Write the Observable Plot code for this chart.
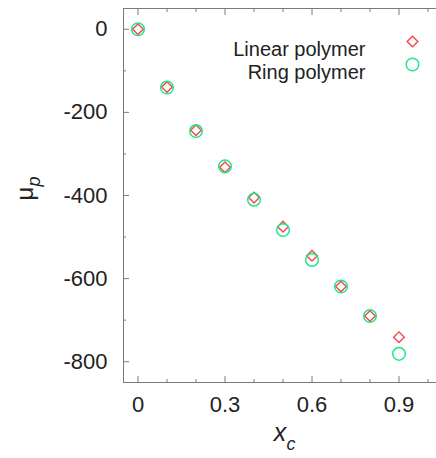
<!DOCTYPE html>
<html><head><meta charset="utf-8">
<script src="https://cdn.jsdelivr.net/npm/d3@7"></script>
<script src="https://cdn.jsdelivr.net/npm/@observablehq/plot@0.6"></script>
<style>body{margin:0;background:#fff}</style>
</head><body><div id="chart"></div>
<script>
// Data
const xc = [0, 0.1, 0.2, 0.3, 0.4, 0.5, 0.6, 0.7, 0.8, 0.9];
const linearMu = [0, -139, -243, -332, -405, -475, -545, -619, -690, -741];
const ringMu = [0, -140, -245, -330, -410, -483, -555, -619, -690, -781];
const seriesNames = ["Linear polymer", "Ring polymer"];
const xTickLabels = [0, 0.3, 0.6, 0.9];
const xMinorTicks = [0, 0.1, 0.2, 0.3, 0.4, 0.5, 0.6, 0.7, 0.8, 0.9, 1.0];
const yTickLabels = [0, -200, -400, -600, -800];
const yMinorTicks = [0, -100, -200, -300, -400, -500, -600, -700, -800];
const xDomain = [-0.05, 1.05];
const yDomain = [-850, 50];

const W = 436, H = 458, mL = 123, mT = 8, mB = 76, mR = -6;
const axisColor = "#7a7a7a";
const red = "#f04848";
const green = "#22e68a";

const linearData = xc.map((x, i) => ({x, y: linearMu[i]}));
const ringData = xc.map((x, i) => ({x, y: ringMu[i]}));
const isMajorX = v => xTickLabels.some(t => Math.abs(t - v) < 1e-9);
const xMajor = xMinorTicks.filter(isMajorX);
const xMinor = xMinorTicks.filter(v => !isMajorX(v));
const yMajor = yTickLabels;
const yMinor = yMinorTicks.filter(v => !yMajor.includes(v));

const tickStyle = {tickFormat: () => "", label: null, stroke: axisColor, strokeWidth: 1};

const chart = Plot.plot({
  width: W, height: H,
  marginLeft: mL, marginTop: mT, marginBottom: mB, marginRight: mR,
  style: {fontFamily: "Liberation Sans, Arial, sans-serif", fontSize: "22px", color: "#222", background: "#fff"},
  x: {domain: xDomain},
  y: {domain: yDomain},
  marks: [
    // box (right side lies just off the picture)
    Plot.frame({stroke: axisColor, strokeWidth: 1}),
    // inward ticks
    Plot.axisX(xMajor, {anchor: "bottom", tickSize: -6, ...tickStyle}),
    Plot.axisX(xMinor, {anchor: "bottom", tickSize: -3, ...tickStyle}),
    Plot.axisX(xMajor, {anchor: "top", tickSize: -6, ...tickStyle}),
    Plot.axisX(xMinor, {anchor: "top", tickSize: -3, ...tickStyle}),
    Plot.axisY(yMajor, {anchor: "left", tickSize: -6, ...tickStyle}),
    Plot.axisY(yMinor, {anchor: "left", tickSize: -3, ...tickStyle}),
    // tick labels
    Plot.axisX(xTickLabels, {anchor: "bottom", tickSize: 0, tickPadding: 14, label: null, tickFormat: d => String(d), fill: "#222"}),
    Plot.axisY(yTickLabels, {anchor: "left", tickSize: 0, tickPadding: 16, label: null, tickFormat: d => d < 0 ? "-" + Math.abs(d) : String(d), fill: "#222"}),
    // data
    Plot.dot(linearData, {x: "x", y: "y", symbol: "diamond2", r: 4.8, stroke: red, strokeWidth: 1.4}),
    Plot.dot(ringData, {x: "x", y: "y", symbol: "circle", r: 6.3, stroke: green, strokeWidth: 1.5}),
    // legend
    Plot.text([seriesNames[0]], {x: null, y: null, text: d => d, frameAnchor: "top-right", dx: -77, dy: 33, textAnchor: "end", fontSize: 20, fill: "#222"}),
    Plot.text([seriesNames[1]], {x: null, y: null, text: d => d, frameAnchor: "top-right", dx: -77, dy: 56, textAnchor: "end", fontSize: 20, fill: "#222"}),
    Plot.dot([seriesNames[0]], {x: null, y: null, frameAnchor: "top-right", dx: -30, dy: 33, symbol: "diamond2", r: 4.8, stroke: red, strokeWidth: 1.4}),
    Plot.dot([seriesNames[1]], {x: null, y: null, frameAnchor: "top-right", dx: -30, dy: 56, symbol: "circle", r: 6.3, stroke: green, strokeWidth: 1.5}),
    // axis titles
    Plot.text(["x"], {x: null, y: null, text: d => d, frameAnchor: "bottom", dx: -3, dy: 58, fontSize: 25, fontStyle: "italic", fill: "#222"}),
    Plot.text(["c"], {x: null, y: null, text: d => d, frameAnchor: "bottom", dx: 8, dy: 67, fontSize: 18, fontStyle: "italic", fill: "#222"}),
    Plot.text(["μ"], {x: null, y: null, text: d => d, frameAnchor: "left", dx: -98, dy: 5, rotate: -90, fontSize: 24, fill: "#222"}),
    Plot.text(["p"], {x: null, y: null, text: d => d, frameAnchor: "left", dx: -89, dy: -9, rotate: -90, fontSize: 18, fontStyle: "italic", fill: "#222"})
  ]
});
document.getElementById("chart").appendChild(chart);
</script>
</body></html>
